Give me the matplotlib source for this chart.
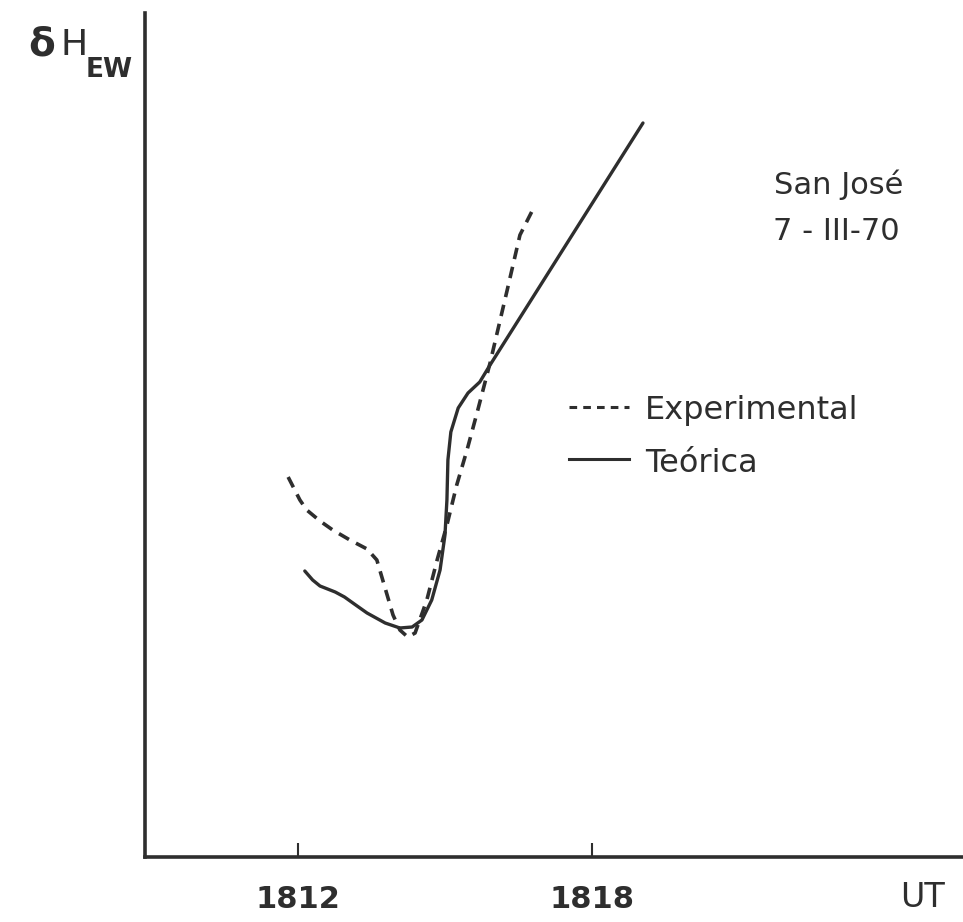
import matplotlib.pyplot as plt

# time axis in UT (hhmm), y in arbitrary units
exp_t = [1811.80, 1812.04, 1812.18, 1812.45, 1812.71, 1813.06, 1813.41, 1813.61,
         1813.73, 1813.94, 1814.08, 1814.24, 1814.39, 1814.63, 1814.84, 1815.04,
         1815.24, 1815.45, 1815.67, 1815.92, 1816.27, 1816.53, 1816.84]
exp_h = [38.0, 35.7, 34.7, 33.6, 32.7, 31.7, 30.8, 29.7,
         27.7, 24.2, 22.7, 22.0, 22.4, 25.7, 29.7, 33.2,
         37.2, 40.7, 44.7, 49.4, 56.7, 62.2, 65.2]

teo_t = [1812.14, 1812.30, 1812.45, 1812.76, 1812.95, 1813.15, 1813.41, 1813.78,
         1814.08, 1814.33, 1814.53, 1814.73, 1814.90, 1815.00, 1815.04, 1815.06,
         1815.12, 1815.27, 1815.47, 1815.71, 1815.92, 1819.04]
teo_h = [28.6, 27.7, 27.1, 26.5, 26.0, 25.3, 24.4, 23.4,
         22.9, 23.0, 23.7, 25.7, 28.7, 32.2, 35.7, 39.7,
         42.5, 44.9, 46.4, 47.5, 49.2, 73.4]

tick_pos = [1812, 1818]
tick_lab = ['1812', '1818']

ink = '#2e2e2e'

fig = plt.figure(figsize=(9.63, 9.22), dpi=100)
ax = fig.add_axes([0.1506, 0.0705, 0.8494, 0.9154])

ax.plot(exp_t, exp_h, color=ink, lw=2.6, linestyle=(0, (3.2, 2.2)),
        dash_joinstyle='round')
ax.plot(teo_t, teo_h, color=ink, lw=2.4, solid_joinstyle='round',
        solid_capstyle='round')

ax.set_xlim(1808.88, 1825.57)
ax.set_ylim(0, 84.4)

for s in ['top', 'right']:
    ax.spines[s].set_visible(False)
for s in ['left', 'bottom']:
    ax.spines[s].set_linewidth(2.6)
    ax.spines[s].set_color(ink)

ax.set_yticks([])
ax.set_xticks(tick_pos)
ax.set_xticklabels(tick_lab, fontsize=22, fontweight='bold', color=ink)
ax.tick_params(axis='x', direction='in', length=10, width=1.5, color=ink, pad=20)

# axis labels
fig.text(922 / 963, 1 - 897 / 922, 'UT', fontsize=24, color=ink, ha='center', va='center')
fig.text(28 / 963, 1 - 45 / 922, 'δ', fontsize=28, fontweight='bold', color=ink,
         ha='left', va='center')
fig.text(60 / 963, 1 - 45 / 922, 'H', fontsize=26, color=ink, ha='left', va='center')
fig.text(86 / 963, 1 - 70 / 922, 'EW', fontsize=19, fontweight='bold', color=ink,
         ha='left', va='center')

# station / date
fig.text(903 / 963, 1 - 185 / 922, 'San José', fontsize=22, color=ink, ha='right', va='center')
fig.text(900 / 963, 1 - 232 / 922, '7 - III-70', fontsize=22, color=ink, ha='right', va='center')

# hand-drawn legend
ax.plot([0.518, 0.592], [0.533, 0.533], transform=ax.transAxes, color=ink, lw=2.2,
        linestyle=(0, (2.5, 2)))
ax.plot([0.518, 0.592], [0.472, 0.472], transform=ax.transAxes, color=ink, lw=2.2)
fig.text(645 / 963, 1 - 410 / 922, 'Experimental', fontsize=23, color=ink, ha='left', va='center')
fig.text(645 / 963, 1 - 463 / 922, 'Teórica', fontsize=23, color=ink, ha='left', va='center')

plt.savefig('out.png', dpi=100)
